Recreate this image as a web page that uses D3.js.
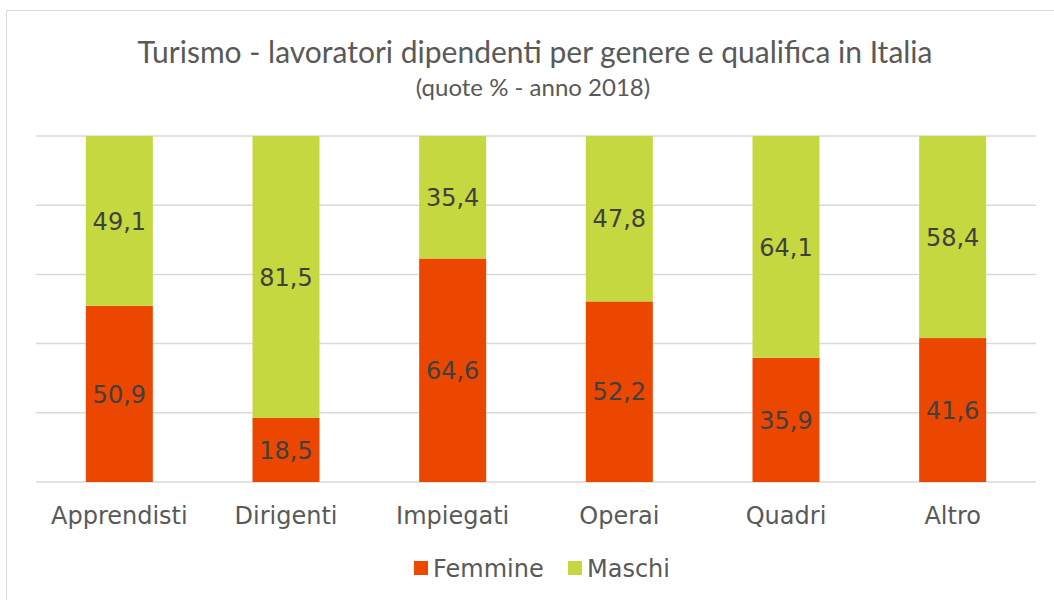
<!DOCTYPE html>
<html>
<head>
<meta charset="utf-8">
<script src="https://cdn.jsdelivr.net/npm/d3@7"></script>
<style>
html,body{margin:0;padding:0;background:#fff;}
svg{display:block;}
</style>
</head>
<body>
<svg id="chart" width="1054" height="600"></svg>
<script>
const categories = ["Apprendisti","Dirigenti","Impiegati","Operai","Quadri","Altro"];
const femmine = [50.9, 18.5, 64.6, 52.2, 35.9, 41.6];
const maschi  = [49.1, 81.5, 35.4, 47.8, 64.1, 58.4];
const seriesNames = ["Femmine","Maschi"];
const seriesColors = ["#EB4700","#C5D83F"];
const yTicks = [0,20,40,60,80,100];

const svg = d3.select("#chart");
const W = 1054, H = 600;
const m = {left:36, right:18, top:136, bottom:118};
const iw = W - m.left - m.right, ih = H - m.top - m.bottom;

// outer border
svg.append("rect").attr("x",6.5).attr("y",10.5).attr("width",1060).attr("height",620)
  .attr("fill","#fff").attr("stroke","#d9d9d9").attr("stroke-width",1);

const x = d3.scaleBand().domain(categories).range([m.left, m.left+iw]).paddingInner(0.598).paddingOuter(0.299);
const y = d3.scaleLinear().domain([0,100]).range([m.top+ih, m.top]);

// gridlines
svg.append("g").selectAll("line").data(yTicks).join("line")
  .attr("x1",m.left).attr("x2",m.left+iw)
  .attr("y1",d=>y(d)).attr("y2",d=>y(d))
  .attr("stroke","#d9d9d9").attr("stroke-width",1.5);

const rows = categories.map((c,i)=>({cat:c, Femmine:femmine[i], Maschi:maschi[i]}));
const stack = d3.stack().keys(seriesNames)(rows);

const FONT = "DejaVu Sans, Verdana, sans-serif";
const g = svg.append("g");
stack.forEach((layer,li)=>{
  g.append("g").selectAll("rect").data(layer).join("rect")
    .attr("x",d=>x(d.data.cat)).attr("width",x.bandwidth())
    .attr("y",d=>y(d[1])).attr("height",d=>y(d[0])-y(d[1]))
    .attr("fill",seriesColors[li]);
  g.append("g").selectAll("text").data(layer).join("text")
    .attr("x",d=>x(d.data.cat)+x.bandwidth()/2)
    .attr("y",d=>(y(d[0])+y(d[1]))/2)
    .attr("dy","0.36em")
    .attr("text-anchor","middle")
    .attr("font-family",FONT)
    .attr("font-size",24)
    .attr("fill","#404040")
    .text(d=>d3.format(".1f")(d[1]-d[0]).replace(".",","));
});

// x axis labels
const xa = svg.append("g").attr("transform",`translate(0,${m.top+ih})`)
  .call(d3.axisBottom(x).tickSize(0).tickPadding(0));
xa.select(".domain").remove();
xa.selectAll("text").attr("y",42).attr("dy",0)
  .attr("font-family",FONT).attr("font-size",24).attr("fill","#595959");

// title
svg.append("text").attr("x",535).attr("y",63).attr("text-anchor","middle")
  .attr("font-family","Lato, sans-serif").attr("font-size",30).attr("fill","#595959")
  .text("Turismo - lavoratori dipendenti per genere e qualifica in Italia");
svg.append("text").attr("x",533).attr("y",96).attr("text-anchor","middle")
  .attr("font-family","Lato, sans-serif").attr("font-size",24).attr("fill","#595959")
  .text("(quote % - anno 2018)");

// legend
const legX = [414, 568];
const lg = svg.append("g");
seriesNames.forEach((s,i)=>{
  lg.append("rect").attr("x",legX[i]).attr("y",561).attr("width",14).attr("height",14).attr("fill",seriesColors[i]);
  lg.append("text").attr("x",legX[i]+19).attr("y",577)
    .attr("font-family",FONT).attr("font-size",24).attr("fill","#595959").text(s);
});
</script>
</body>
</html>
